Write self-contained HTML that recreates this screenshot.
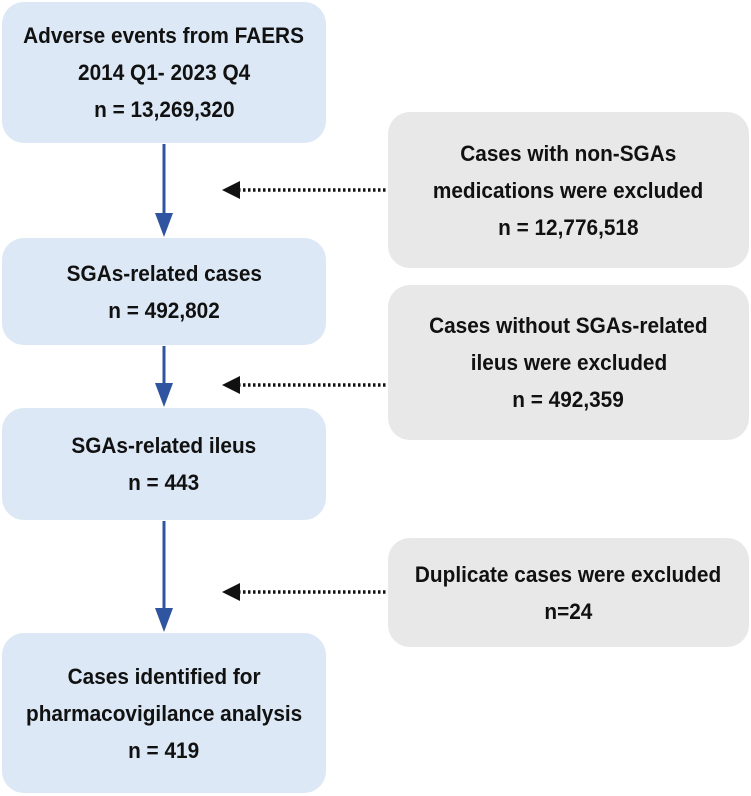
<!DOCTYPE html>
<html><head><meta charset="utf-8"><style>
body{margin:0;width:751px;height:796px;background:#fff;position:relative;overflow:hidden;font-family:"Liberation Sans",Arial,sans-serif;}
.b{position:absolute;border-radius:22px;display:flex;flex-direction:column;justify-content:center;align-items:center;font-weight:bold;font-size:22px;color:#111;line-height:37px;text-align:center;}
.blue{background:#dce8f5;left:2px;width:324px;}
.gray{background:#e8e8e8;left:388px;width:361px;}
.b span{display:inline-block;transform:scaleX(0.945);white-space:nowrap;}
svg{position:absolute;left:0;top:0;}
</style></head><body>
<div class="b blue" style="top:2px;height:141px"><span>Adverse events from FAERS</span><span>2014 Q1- 2023 Q4</span><span>n = 13,269,320</span></div>
<div class="b blue" style="top:238px;height:107px"><span>SGAs-related cases</span><span>n = 492,802</span></div>
<div class="b blue" style="top:408px;height:112px"><span>SGAs-related ileus</span><span>n = 443</span></div>
<div class="b blue" style="top:633px;height:160px"><span>Cases identified for</span><span>pharmacovigilance analysis</span><span>n = 419</span></div>
<div class="b gray" style="top:112px;height:156px"><span>Cases with non-SGAs</span><span>medications were excluded</span><span>n = 12,776,518</span></div>
<div class="b gray" style="top:285px;height:155px"><span>Cases without SGAs-related</span><span>ileus were excluded</span><span>n = 492,359</span></div>
<div class="b gray" style="top:538px;height:109px"><span>Duplicate cases were excluded</span><span>n=24</span></div>
<svg width="751" height="796">
<g stroke="#2f55a0" stroke-width="3" fill="#2f55a0">
<line x1="164" y1="144" x2="164" y2="215"/><polygon points="155,213 173,213 164,237" stroke="none"/>
<line x1="164" y1="346" x2="164" y2="385"/><polygon points="155,383 173,383 164,407" stroke="none"/>
<line x1="164" y1="521" x2="164" y2="610"/><polygon points="155,608 173,608 164,632" stroke="none"/>
</g>
<g stroke="#111" stroke-width="3.5" stroke-dasharray="2.5,2.5" fill="#111">
<line x1="238" y1="190" x2="388" y2="190"/><polygon points="222,190 240,181 240,199" stroke="none"/>
<line x1="238" y1="385" x2="388" y2="385"/><polygon points="222,385 240,376 240,394" stroke="none"/>
<line x1="238" y1="592" x2="388" y2="592"/><polygon points="222,592 240,583 240,601" stroke="none"/>
</g>
</svg>
</body></html>
